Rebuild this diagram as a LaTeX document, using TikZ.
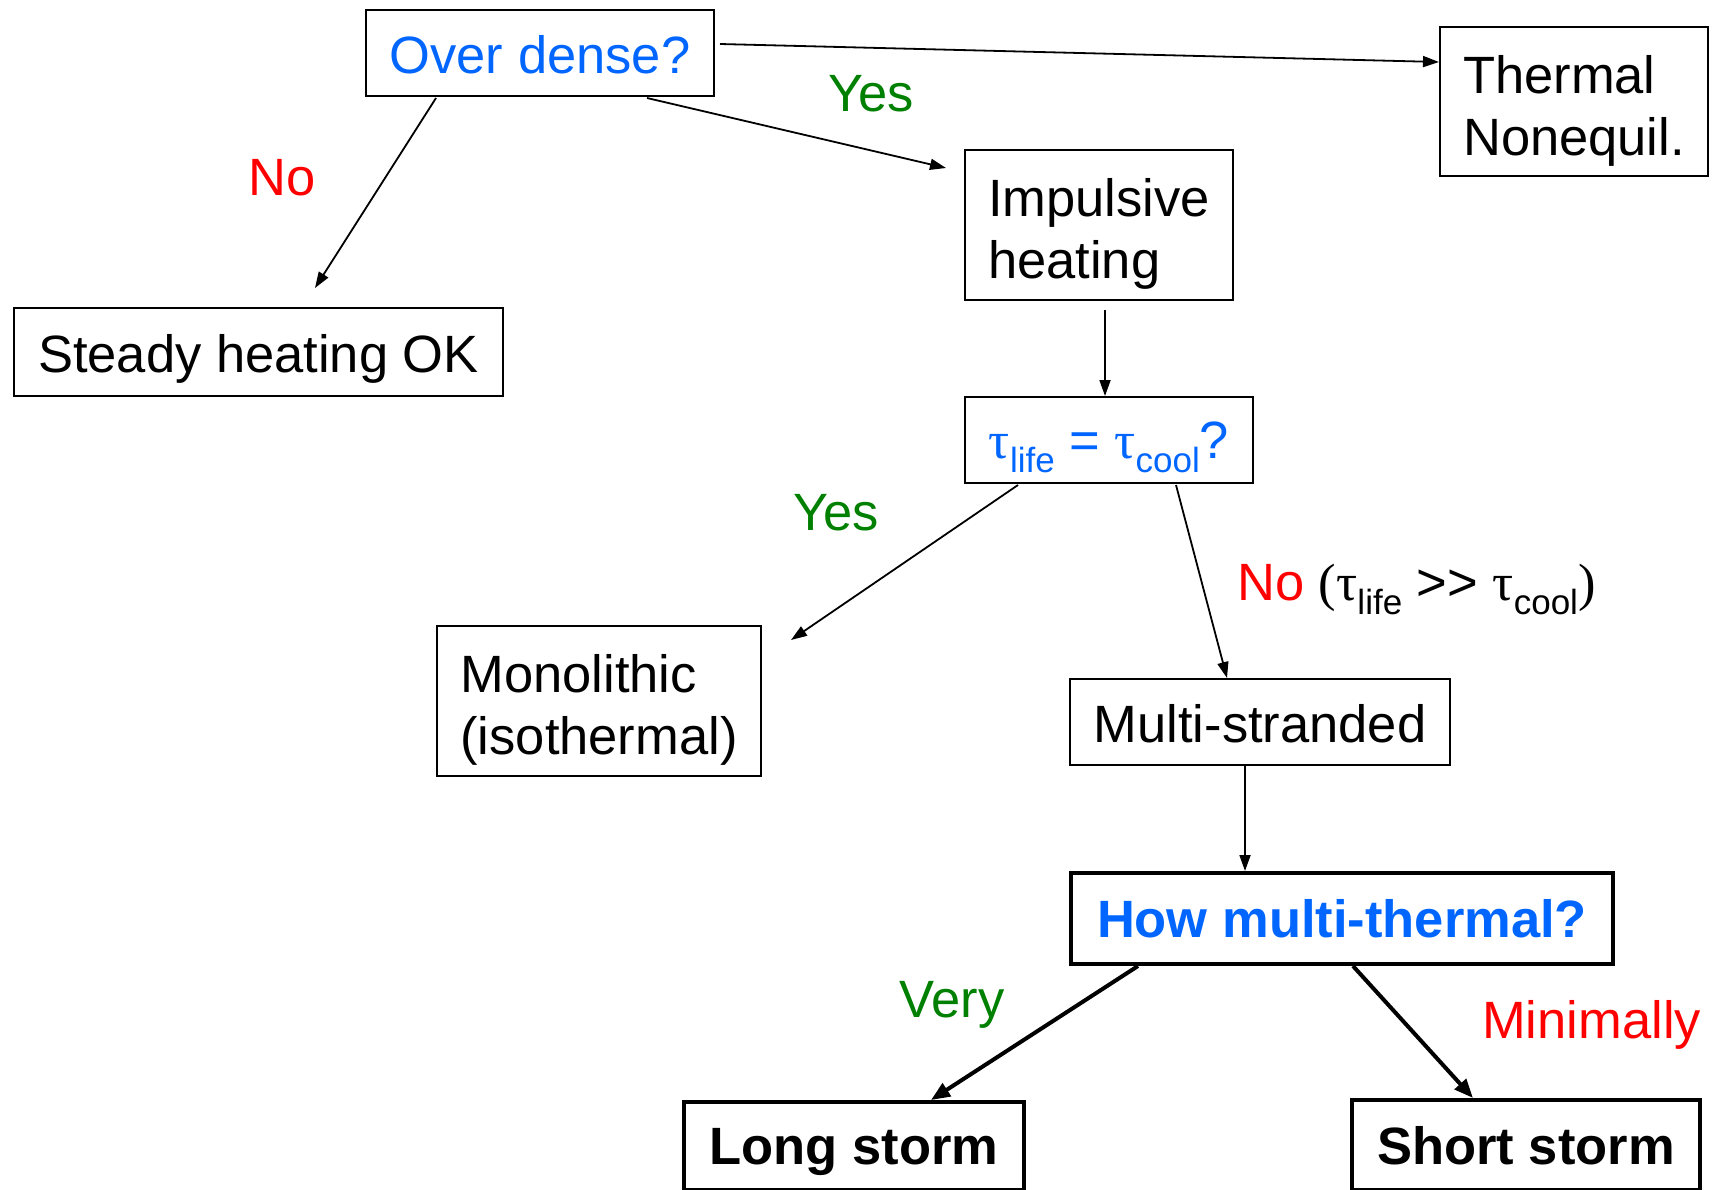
\documentclass[tikz,border=0pt]{standalone}
\usepackage{fontspec}
\setmainfont{Liberation Sans}
\newfontfamily\greekfont{Liberation Serif}
\usetikzlibrary{arrows.meta,calc}
\definecolor{qblue}{RGB}{0,102,255}
\definecolor{qgreen}{RGB}{0,128,0}
\definecolor{qred}{RGB}{255,0,0}
% time scale tau with a lowered, smaller subscript
\newcommand\tauof[1]{{\greekfont τ}\raisebox{-14pt}{\fontsize{35}{35}\selectfont #1}}
\newcommand\topstrut{\rule{0pt}{56pt}}
\newcommand\botstrut{\rule[-11pt]{0pt}{11pt}}

\begin{document}
\begin{tikzpicture}[x=1pt,y=-1pt,
  every node/.style={font=\fontsize{52.5}{62}\selectfont},
  box/.style={draw, line width=2pt, inner sep=0pt, anchor=north west,
    align=center, text height=40pt, text depth=0pt},
  boldbox/.style={box, line width=4pt,
    font=\fontsize{52.5}{62}\selectfont\bfseries},
  twoline/.style={draw, line width=2pt, inner sep=0pt, anchor=north west,
    align=left},
  lbl/.style={anchor=base west, inner sep=0pt},
  arr/.style={line width=1.8pt, -{Triangle[length=16pt,width=11pt]}},
  thickarr/.style={line width=4pt, -{Triangle[length=19pt,width=15pt]}},
]
\useasboundingbox (0,0) rectangle (1719,1189);

% decision and outcome boxes
\node[box, text=qblue, minimum width=348pt, minimum height=86pt] (od) at (365,9) {Over dense?};
\node[twoline, minimum width=268pt, minimum height=149pt] (tn) at (1439,26) {\topstrut Thermal\\Nonequil.\botstrut};
\node[twoline, minimum width=268pt, minimum height=150pt] (ih) at (964,149) {\topstrut Impulsive\\heating\botstrut};
\node[box, minimum width=489pt, minimum height=88pt] (sh) at (13,307) {Steady heating OK};
\node[box, text=qblue, text height=36pt, minimum width=288pt, minimum height=86pt] (tau) at (964,396) {\tauof{life} = \tauof{cool}?};
\node[twoline, minimum width=324pt, minimum height=150pt] (mono) at (436,625) {\topstrut Monolithic\\(isothermal)\botstrut};
\node[box, minimum width=380pt, minimum height=86pt] (ms) at (1069,678) {Multi-stranded};
\node[boldbox, text=qblue, text height=38pt, minimum width=542pt, minimum height=91pt] (hm) at (1069,871) {How multi-thermal?};
\node[boldbox, text height=36pt, minimum width=340pt, minimum height=88pt] (ls) at (682,1100) {Long storm};
\node[boldbox, text height=38pt, minimum width=348pt, minimum height=90pt] (ss) at (1350,1098) {Short storm};

% connectors
\draw[arr] ($(od.north east)+(5,35)$) -- ($(tn.north west)+(0,36)$);
\draw[arr] ($(od.south west)+(282,1)$) -- ($(ih.north west)+(-18,19)$);
\draw[arr] ($(od.south west)+(71,1)$) -- ($(sh.north west)+(302,-19)$);
\draw[arr] ($(ih.south west)+(141,9)$) -- ($(tau.north west)+(141,0)$);
\draw[arr] ($(tau.south west)+(54,1)$) -- ($(mono.north east)+(29,15)$);
\draw[arr] ($(tau.south west)+(212,1)$) -- ($(ms.north west)+(158,0)$);
\draw[arr] ($(ms.south west)+(176,0)$) -- ($(hm.north west)+(176,0)$);
\draw[thickarr] ($(hm.south west)+(69,0)$) -- ($(ls.north west)+(249,0)$);
\draw[thickarr] ($(hm.south west)+(284,0)$) -- ($(ss.north west)+(123,0)$);

% branch labels
\node[lbl, text=qgreen] (yes1) at (828,111) {Yes};
\node[lbl, text=qred] (no1) at (248,195) {No};
\node[lbl, text=qgreen] (yes2) at (793,530) {Yes};
\node[lbl] (no2) at (1237,600) {\textcolor{qred}{No} {\greekfont(}\tauof{life} >\kern0pt> \tauof{cool}{\greekfont)}};
\node[lbl, text=qgreen] (very) at (899,1017) {Very};
\node[lbl, text=qred] (minim) at (1482,1038) {Minimally};
\end{tikzpicture}
\end{document}
